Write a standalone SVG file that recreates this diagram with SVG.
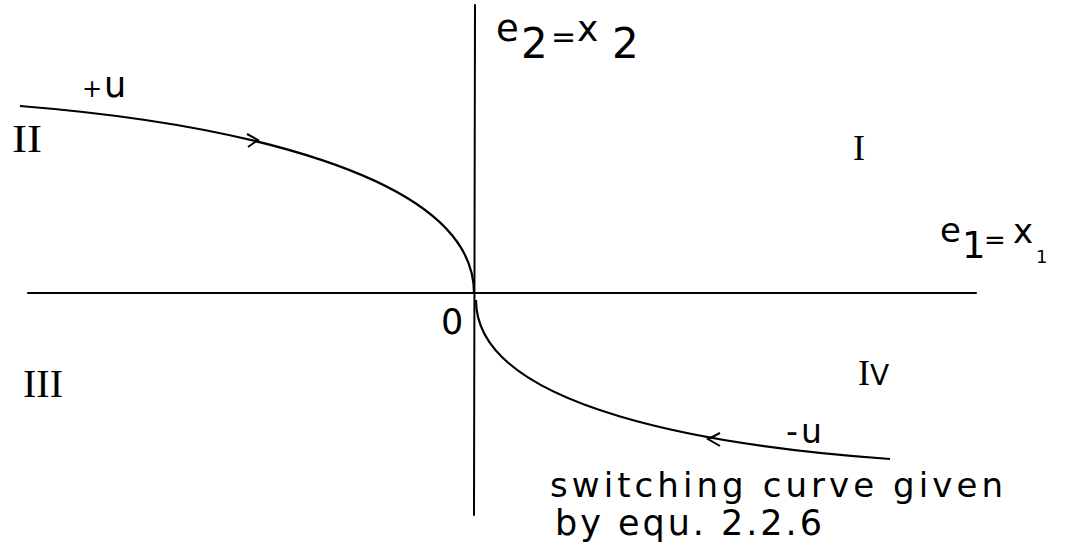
<svg xmlns="http://www.w3.org/2000/svg" width="1067" height="549" viewBox="0 0 1067 549">
<style>
  .ln { fill: none; stroke: #000; stroke-width: 2; stroke-linecap: round; }
  .crv { fill: none; stroke: #000; stroke-width: 2.2; }
  .ah { fill: none; stroke: #000; stroke-width: 2; stroke-linejoin: miter; }
  .t { font-family: "DejaVu Sans", "Liberation Sans", sans-serif; fill: #000; }
  .r { font-family: "Liberation Serif", "DejaVu Serif", serif; fill: #000; }
</style>
<rect width="1067" height="549" fill="#fff"/>
<g id="connectors">
  <line class="ln" x1="28" y1="293" x2="976" y2="293"/>
  <line class="ln" x1="475" y1="5" x2="474" y2="515"/>
  <path class="crv" d="M20,106 C220,122 474,172 474,293"/>
  <path class="crv" d="M476,300 C476,410 720,447 890,459"/>
  <polyline class="ah" points="247,134 258,140 248,147"/>
  <polyline class="ah" points="720,433 708,439 720,446"/>
</g>
<g id="label-e2"><text class="t" font-size="37" x="496" y="41">e</text><text class="t" font-size="42" x="521" y="58">2</text><text class="t" font-size="30" x="551" y="47">=</text><text class="t" font-size="36" x="577" y="41">x</text><text class="t" font-size="42" x="612" y="58">2</text></g>
<g id="label-e1"><text class="t" font-size="34" x="940" y="242">e</text><text class="t" font-size="37" x="962" y="258">1</text><text class="t" font-size="26" x="984" y="249">=</text><text class="t" font-size="34" x="1013" y="243">x</text><text class="t" font-size="18" x="1036" y="263">1</text></g>
<g id="label-origin"><text class="t" font-size="35" x="441" y="334">0</text></g>
<g id="label-plus-u"><text class="t" x="82" y="97"><tspan font-size="24">+</tspan><tspan font-size="35" dx="2">u</tspan></text></g>
<g id="label-minus-u"><text class="t" font-size="33" x="786" y="443"><tspan>-</tspan><tspan dx="3">u</tspan></text></g>
<g id="region-II"><text class="r" font-size="40" x="12" y="152" textLength="30" lengthAdjust="spacingAndGlyphs">II</text></g>
<g id="region-III"><text class="r" font-size="40" x="23" y="397" textLength="40" lengthAdjust="spacingAndGlyphs">III</text></g>
<g id="region-I"><text class="r" font-size="36" x="853" y="160">I</text></g>
<g id="region-IV"><text class="r" font-size="36" x="858" y="385">I</text><text class="t" font-size="28" x="870" y="385">V</text></g>
<g id="note">
  <text class="t" font-size="34" x="550" y="497" textLength="453" lengthAdjust="spacing">switching curve given</text>
  <text class="t" font-size="35" x="555" y="535" textLength="267" lengthAdjust="spacing">by equ. 2.2.6</text>
</g>
</svg>
